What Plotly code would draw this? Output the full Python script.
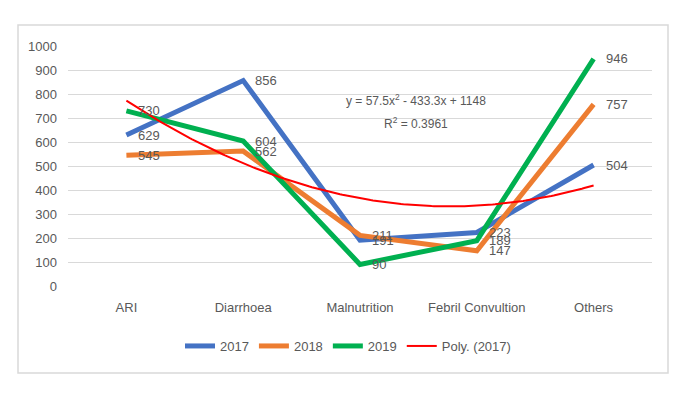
import numpy as np
import plotly.graph_objects as go

categories = ["ARI", "Diarrhoea", "Malnutrition", "Febril Convultion", "Others"]
s2017 = [629, 856, 191, 223, 504]
s2018 = [545, 562, 211, 147, 757]
s2019 = [730, 604, 90, 189, 946]
y_ticks = [0, 100, 200, 300, 400, 500, 600, 700, 800, 900, 1000]

FONT = "Liberation Sans, Arial, sans-serif"
GREY = "#595959"

# the page body has an 8px margin: figure coords = page coords - 8
OFF = 8
PL, PR, PT, PB = 68 - OFF, 652 - OFF, 46 - OFF, 286 - OFF
W, H = 692 - OFF, 398 - OFF
PW, PH = PR - PL, PB - PT


def px(xp):
    return (xp - OFF - PL) / PW


def py(yp):
    return (PB - (yp - OFF)) / PH


xpos = list(range(len(categories)))
fig = go.Figure()

series = [("2017", s2017, "#4472C4"), ("2018", s2018, "#ED7D31"), ("2019", s2019, "#00B050")]
for name, vals, col in series:
    fig.add_trace(go.Scatter(x=xpos, y=vals, mode="lines", name=name,
                             line=dict(color=col, width=5), hoverinfo="x+y"))

# polynomial (order 2) trendline of 2017, fitted on x = 1..5 like Excel
xs = np.arange(1, len(s2017) + 1)
coef = np.polyfit(xs, s2017, 2)
xf = np.linspace(1, len(s2017), 200)
fig.add_trace(go.Scatter(x=xf - 1, y=np.polyval(coef, xf), mode="lines", name="Poly. (2017)",
                         line=dict(color="#FF0000", width=2)))

# data labels
for name, vals, col in series:
    for i, v in enumerate(vals):
        fig.add_annotation(x=i, y=v, text=str(v), showarrow=False, xanchor="left",
                           yanchor="middle", xshift=10,
                           font=dict(family=FONT, size=13, color=GREY))

# equation and R^2
yhat = np.polyval(coef, xs)
r2 = 1 - np.sum((np.array(s2017) - yhat) ** 2) / np.sum((np.array(s2017) - np.mean(s2017)) ** 2)
eq = f"y = {coef[0]:.1f}x<sup>2</sup> - {abs(coef[1]):.1f}x + {coef[2]:.0f}"
fig.add_annotation(xref="paper", yref="paper", x=px(416), y=py(100),
                   text=eq, showarrow=False, xanchor="center", yanchor="middle",
                   font=dict(family=FONT, size=12, color=GREY))
fig.add_annotation(xref="paper", yref="paper", x=px(416), y=py(123),
                   text=f"R<sup>2</sup> = {r2:.4f}", showarrow=False, xanchor="center",
                   yanchor="middle", font=dict(family=FONT, size=12, color=GREY))

# outer chart border
fig.add_shape(type="rect", xref="paper", yref="paper",
              x0=px(18), x1=px(668), y0=py(373), y1=py(25),
              line=dict(color="#D9D9D9", width=1.5), layer="below")

fig.update_layout(
    width=W, height=H,
    margin=dict(l=PL, r=W - PR, t=PT, b=H - PB, autoexpand=False),
    plot_bgcolor="white", paper_bgcolor="white",
    font=dict(family=FONT, size=13, color=GREY),
    showlegend=True,
    legend=dict(orientation="h", x=px(348), y=py(346),
                xanchor="center", yanchor="middle",
                font=dict(family=FONT, size=13, color=GREY),
                itemwidth=30, tracegroupgap=0),
    xaxis=dict(tickmode="array", tickvals=xpos, ticktext=categories,
               range=[-0.5, len(categories) - 0.5], showgrid=False, zeroline=False,
               showline=False, ticks="", ticklabelstandoff=12,
               tickfont=dict(family=FONT, size=13, color=GREY)),
    yaxis=dict(range=[0, 1000], tickmode="array", tickvals=y_ticks,
               showgrid=True, gridcolor="#D9D9D9", gridwidth=1, zeroline=False,
               showline=False, ticks="", ticklabelstandoff=10,
               tickfont=dict(family=FONT, size=13, color=GREY)),
)

fig.write_html("out.html")
